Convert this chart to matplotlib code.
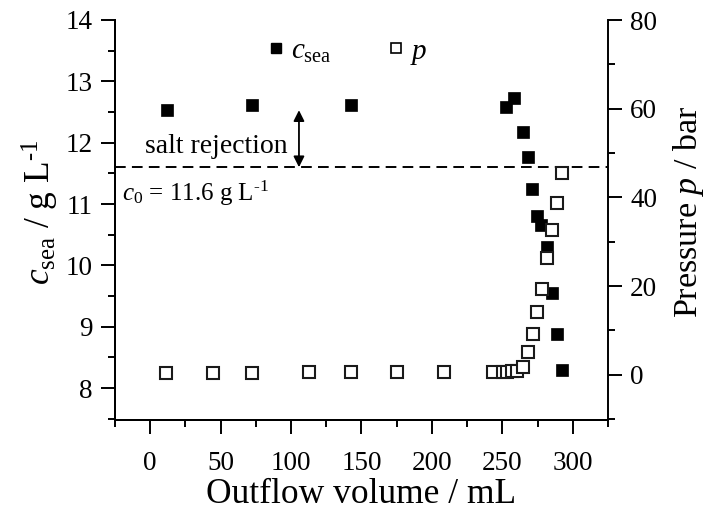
import matplotlib
matplotlib.use("Agg")
import matplotlib.pyplot as plt
from matplotlib.ticker import MultipleLocator
from matplotlib.lines import Line2D

plt.rcParams["font.family"] = ["Liberation Serif", "DejaVu Serif"]
plt.rcParams["mathtext.fontset"] = "custom"
plt.rcParams["mathtext.rm"] = "Liberation Serif"
plt.rcParams["mathtext.it"] = "Liberation Serif:italic"

# Seawater concentration c_sea vs. outflow volume
vol_c = [11.6, 72.2, 142.4, 252.3, 258.0, 264.4, 268.0, 271.2, 274.3, 277.4,
         281.4, 285.4, 288.6, 292.1]
c_sea = [12.54, 12.61, 12.61, 12.59, 12.73, 12.17, 11.76, 11.25, 10.80, 10.66,
         10.30, 9.55, 8.88, 8.30]

# Applied pressure p vs. outflow volume
vol_p = [11.4, 44.8, 72.2, 113.0, 142.4, 175.0, 208.5, 243.5, 250.5, 253.5,
         257.0, 260.5, 264.4, 268.0, 271.5, 274.3, 277.9, 281.4, 285.0, 288.5,
         292.1]
p_bar = [0.4, 0.4, 0.5, 0.6, 0.6, 0.7, 0.7, 0.7, 0.7, 0.7,
         0.8, 0.9, 1.7, 5.1, 9.2, 14.1, 19.4, 26.3, 32.7, 38.8,
         45.4]

c0 = 11.6
arrow_x = 105.6
arrow_top = 12.53

fig = plt.figure(figsize=(7.06, 5.12), dpi=100)
ax = fig.add_axes([115 / 706, 1 - 420 / 512, (608 - 115) / 706, 400 / 512])
ax2 = ax.twinx()

ax.plot(vol_c, c_sea, ls="none", marker="s", ms=9, mfc="black", mec="black",
        mew=0.5, zorder=3)
ax2.plot(vol_p, p_bar, ls="none", marker="s", ms=8.2, mfc="white", mec="#1a1a1a",
         mew=1.5, zorder=3)

ax.axhline(c0, color="black", lw=1.4, dashes=(5.5, 3.2))
ax.annotate("", xy=(arrow_x, c0), xytext=(arrow_x, arrow_top),
            arrowprops=dict(arrowstyle="<|-|>", color="black", lw=1.3,
                            mutation_scale=16, shrinkA=0, shrinkB=0))
ax.text(-4, 11.93, "salt rejection", fontsize=20, va="center", ha="left")
ax.text(-20, 11.17, r"$c_0$ = 11.6 g L$^{\text{-1}}$", fontsize=18,
        va="center", ha="left")

ax.set_xlim(-25, 325)
ax.set_ylim(7.48, 14)
ax2.set_ylim(-10.2, 80)

ax.xaxis.set_major_locator(MultipleLocator(50))
ax.xaxis.set_minor_locator(MultipleLocator(25))
ax.yaxis.set_major_locator(MultipleLocator(1))
ax.yaxis.set_minor_locator(MultipleLocator(0.5))
ax2.yaxis.set_major_locator(MultipleLocator(20))
ax2.yaxis.set_minor_locator(MultipleLocator(10))

for a in (ax, ax2):
    a.spines["top"].set_visible(False)
    for s in a.spines.values():
        s.set_linewidth(1.4)
    a.tick_params(which="major", direction="out", length=10, width=1.4,
                  labelsize=19.5, pad=6)
    a.tick_params(which="minor", direction="out", length=5, width=1.4)
ax.spines["right"].set_visible(False)
ax.tick_params(axis="x", which="major", pad=12)

ax.set_xlabel("Outflow volume / mL", fontsize=25.5, labelpad=2)
ax.set_ylabel(r"$c_{\mathrm{sea}}$ / g L$^{\text{-1}}$", fontsize=25.5)
ax2.set_ylabel(r"Pressure $p$ / bar", fontsize=24.5)
ax.yaxis.set_label_coords(-0.11, 0.52)
ax2.yaxis.set_label_coords(1.128, 0.52)

handles = [
    Line2D([], [], ls="none", marker="s", ms=7.5, mfc="black", mec="black"),
    Line2D([], [], ls="none", marker="s", ms=7, mfc="white", mec="black", mew=1.2),
]
ax2.legend(handles, [r"$c_{\mathrm{sea}}$", r"$p$"], ncol=2, frameon=False,
           fontsize=21, loc="upper left", bbox_to_anchor=(0.25, 1.02),
           handlelength=0.8, handletextpad=0.1, columnspacing=1.8)

fig.savefig("out.png", dpi=100)
